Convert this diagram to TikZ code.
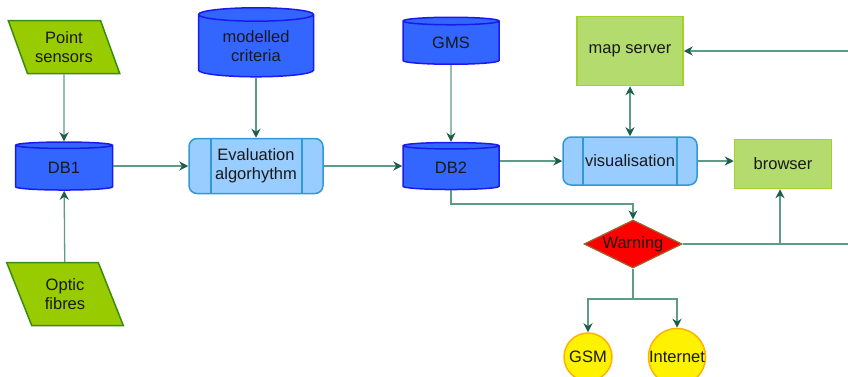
\documentclass[tikz,border=0pt]{standalone}
\usepackage{fontspec}
\setmainfont{Liberation Sans}
\usepackage{tikz}
\usetikzlibrary{shapes.geometric,arrows.meta}
\definecolor{linec}{HTML}{5E9C88}
\definecolor{headc}{HTML}{1D5E48}
\definecolor{dbfill}{HTML}{3366FF}
\definecolor{dbdraw}{HTML}{1A1AF0}
\definecolor{inpfill}{HTML}{99CC00}
\definecolor{inpdraw}{HTML}{3A8C10}
\definecolor{procfill}{HTML}{99CCFF}
\definecolor{procdraw}{HTML}{3399D6}
\definecolor{boxfill}{HTML}{B3DB6E}
\definecolor{boxdraw}{HTML}{A5D12A}

\tikzset{
  db/.style={cylinder,shape border rotate=90,aspect=0.2,fill=dbfill,draw=dbdraw,line width=1.5pt,
    inner sep=0pt,align=center},
  inp/.style={trapezium,trapezium left angle=116,trapezium right angle=64,
    trapezium stretches=true,fill=inpfill,draw=inpdraw,line width=1.5pt,inner sep=0pt,align=center},
  proc/.style={rectangle,rounded corners=8pt,fill=procfill,draw=procdraw,line width=1.5pt,
    inner sep=0pt,align=center},
  box/.style={rectangle,fill=boxfill,draw=boxdraw,line width=1.5pt,inner sep=0pt,align=center},
  alarm/.style={diamond,aspect=2,fill=red,draw=brown!80!black,line width=1.2pt,inner sep=0pt},
  channel/.style={circle,minimum size=48pt,fill=yellow,draw=orange!60!yellow,line width=1.5pt,inner sep=0pt},
  gtip/.tip={Stealth[color=headc,length=9pt,width=9pt]},
  link/.style={draw=linec,line width=1.3pt,-gtip},
  wire/.style={draw=linec,line width=1.3pt},
}

\begin{document}
\begin{tikzpicture}[x=1pt,y=-1pt,font=\fontsize{16.5pt}{19pt}\selectfont,text=black!90]
\useasboundingbox (0,0) rectangle (848,376);
\clip (0,0) rectangle (848,376);
% inputs
\node[inp,minimum width=112pt,minimum height=53pt] (ps) at (64,47) {Point\\sensors};
\node[inp,minimum width=117pt,minimum height=63pt] (of) at (65,294) {Optic\\fibres};
\node[db,minimum width=97pt,minimum height=48pt] (db1) at (64,168) {DB1};
% evaluation
\node[db,minimum width=115pt,minimum height=69pt] (crit) at (256,46) {modelled\\criteria};
\node[proc,minimum width=134pt,minimum height=55pt,
  path picture={\draw[procdraw,line width=1.5pt]
    ([xshift=22pt]path picture bounding box.north west) -- ([xshift=22pt]path picture bounding box.south west)
    ([xshift=-21pt]path picture bounding box.north east) -- ([xshift=-21pt]path picture bounding box.south east);}]
  (eval) at (256,166) {Evaluation\\algorhythm};
\node[db,minimum width=96pt,minimum height=47pt] (gms) at (451,43) {GMS};
\node[db,minimum width=96pt,minimum height=47pt] (db2) at (451,168) {DB2};
% output
\node[box,minimum width=106pt,minimum height=69pt] (map) at (630,51) {map server};
\node[proc,minimum width=134pt,minimum height=48pt,
  path picture={\draw[procdraw,line width=1.5pt]
    ([xshift=20pt]path picture bounding box.north west) -- ([xshift=20pt]path picture bounding box.south west)
    ([xshift=-20pt]path picture bounding box.north east) -- ([xshift=-20pt]path picture bounding box.south east);}]
  (vis) at (630,161) {visualisation};
\node[box,minimum width=97pt,minimum height=49pt] (browser) at (783,164) {browser};
\node[alarm,minimum width=98pt,minimum height=48pt] (warn) at (633,244) {Warning};
\node[channel] (gsm) at (588,357) {GSM};
\node[channel] (net) at (677,357) {Internet};
\coordinate (mapin) at (848,51);
\coordinate (warnout) at (848,244);
\coordinate (j1) at (451,204);
\coordinate (j2) at (633,299);
% connectors
\draw[link] (ps) -- (db1);
\draw[link] (of) -- (db1);
\draw[link] (db1.east |- eval) -- (eval);
\draw[link] (crit) -- (eval);
\draw[link] (eval) -- (db2.west |- eval);
\draw[link] (gms) -- (db2);
\draw[link] (db2.east |- vis) -- (vis);
\draw[link] (vis) -- (browser.west |- vis);
\draw[link,gtip-gtip] (map) -- (vis);
\draw[link] (mapin) -- (map);
\draw[link] (db2.south) -- (j1) -| (warn.north);
\draw[wire] (warn.east) -- (warnout);
\draw[link] (warn.east) -| ([xshift=-3pt]browser.south);
\draw[wire] (warn.south) -- (j2);
\draw[link] (j2) -| (gsm.north);
\draw[link] (j2) -| (net.north);
\end{tikzpicture}
\end{document}
